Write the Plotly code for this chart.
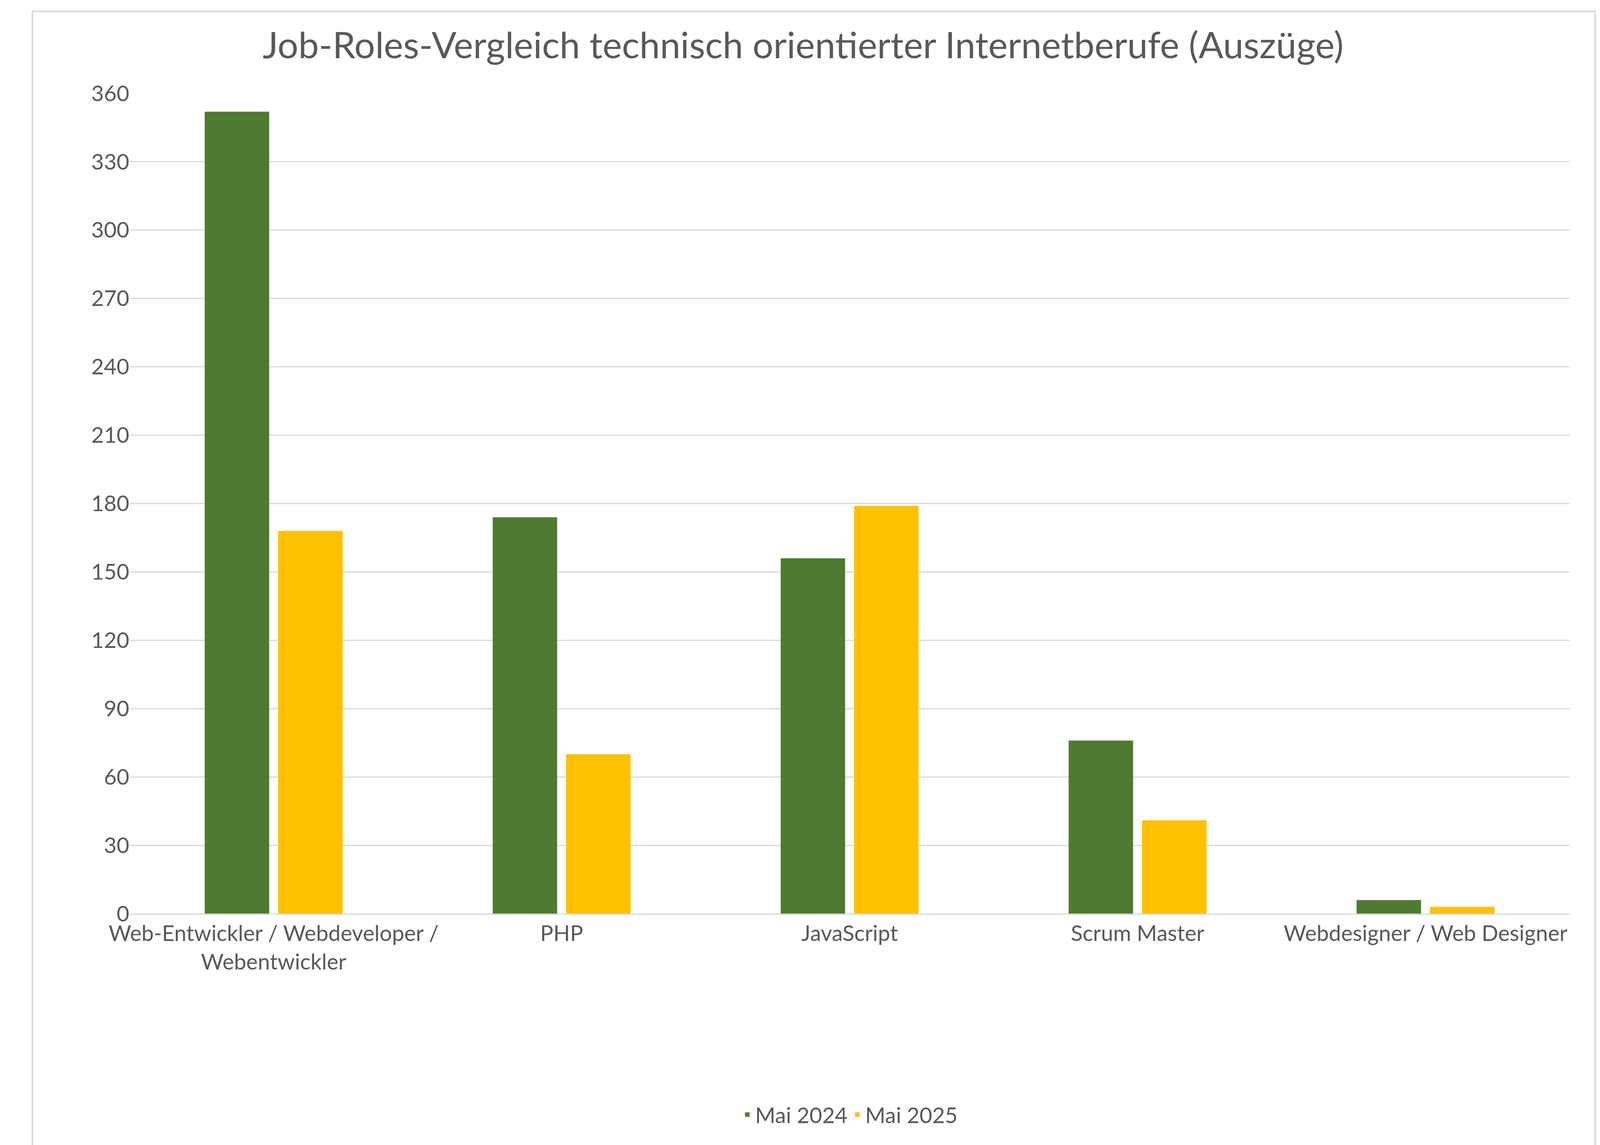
import plotly.graph_objects as go

categories = ["Web-Entwickler / Webdeveloper /<br>Webentwickler", "PHP", "JavaScript",
              "Scrum Master", "Webdesigner / Web Designer"]
mai_2024 = [352, 174, 156, 76, 6]
mai_2025 = [168, 70, 179, 41, 3]
y_ticks = list(range(0, 361, 30))

fig = go.Figure()
fig.add_trace(go.Bar(x=categories, y=mai_2024, name="Mai 2024", marker_color="#507A32"))
fig.add_trace(go.Bar(x=categories, y=mai_2025, name="Mai 2025", marker_color="#FFC000"))

fig.update_layout(
    autosize=True,
    paper_bgcolor="white", plot_bgcolor="white",
    font=dict(family="Lato, Open Sans, sans-serif", color="#595959", size=56),
    title=dict(text="Job-Roles-Vergleich technisch orientierter Internetberufe (Auszüge)",
               x=0.5, xanchor="center", y=0.963, yanchor="middle",
               font=dict(size=94, color="#595959")),
    margin=dict(l=324, r=86, t=231, b=600),
    barmode="group", bargap=0.49, bargroupgap=0.12,
    legend=dict(orientation="h", x=0.5, xanchor="center", y=-0.245, yanchor="middle",
                font=dict(size=56)),
    shapes=[dict(type="rect", xref="paper", yref="paper", x0=-0.0676, x1=1.0178,
                 y0=-0.2859, y1=1.1, line=dict(color="#D9D9D9", width=4))],
)
fig.update_xaxes(showline=True, linecolor="#D9D9D9", linewidth=3, ticks="", tickfont=dict(size=56))
fig.update_yaxes(range=[0, 360], tickvals=y_ticks, showgrid=True, gridcolor="#D9D9D9",
                 gridwidth=3, zeroline=False, ticks="", tickfont=dict(size=56), ticksuffix="   ")

fig.write_html("out.html", default_width="100vw", default_height="100vh")
